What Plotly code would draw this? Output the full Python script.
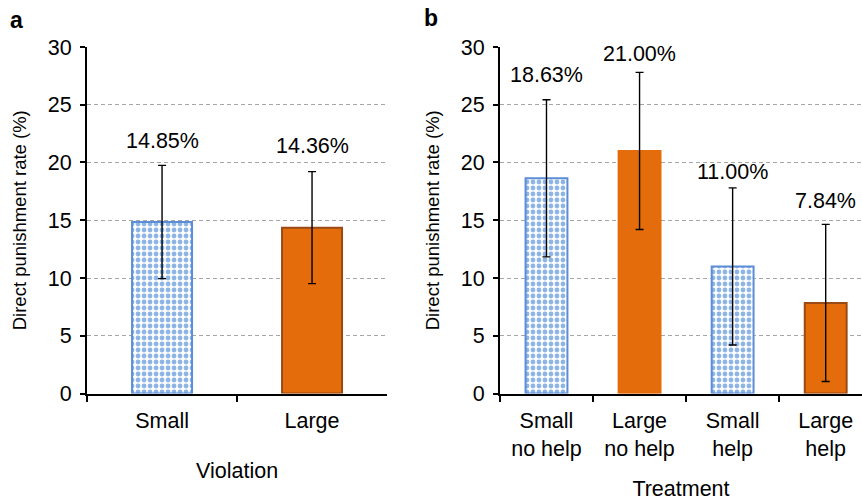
import plotly.graph_objects as go

# ---- data ----
cats_a = ["Small", "Large"]
vals_a = [14.85, 14.36]
err_a = [4.9, 4.85]
labels_a = ["14.85%", "14.36%"]

cats_b = ["Small<br>no help", "Large<br>no help", "Small<br>help", "Large<br>help"]
vals_b = [18.63, 21.00, 11.00, 7.84]
err_b = [6.8, 6.8, 6.8, 6.8]
labels_b = ["18.63%", "21.00%", "11.00%", "7.84%"]

y_ticks = [0, 5, 10, 15, 20, 25, 30]

# ---- styles ----
BLUE_LINE = "#5B8ED6"
BLUE_FILL = "#8DB4E6"
ORANGE = "#E46C0A"
BROWN = "#9A4A14"
FONT = "Liberation Sans"
TF = 21.5

fig = go.Figure()

def add_bars(cats, vals, errs, idx, width, small, line_colors, xa, ya):
    xs = [cats[i] for i in idx]
    ys = [vals[i] for i in idx]
    es = [errs[i] for i in idx]
    lc = [line_colors[i] for i in idx]
    if small:
        marker = dict(color="white", line=dict(color=lc, width=2),
                      pattern=dict(shape=".", fgcolor=BLUE_FILL, fgopacity=1,
                                   size=6, solidity=0.5, fillmode="overlay"))
    else:
        marker = dict(color=ORANGE, line=dict(color=lc, width=2))
    fig.add_trace(go.Bar(
        x=xs, y=ys, width=width, marker=marker,
        error_y=dict(type="data", array=es, color="black", thickness=1.4, width=4),
        xaxis=xa, yaxis=ya, showlegend=False,
    ))

add_bars(cats_a, vals_a, err_a, [0], 0.4, True, [BLUE_LINE, BROWN], "x", "y")
add_bars(cats_a, vals_a, err_a, [1], 0.4, False, [BLUE_LINE, BROWN], "x", "y")
lc_b = [BLUE_LINE, ORANGE, BLUE_LINE, BROWN]
add_bars(cats_b, vals_b, err_b, [0, 2], 0.45, True, lc_b, "x2", "y2")
add_bars(cats_b, vals_b, err_b, [1, 3], 0.45, False, lc_b, "x2", "y2")

label_shift_a = [24, 26]
label_shift_b = [25, 18, 16, 23]
anns = []
for c, v, e, t, s in zip(cats_a, vals_a, err_a, labels_a, label_shift_a):
    anns.append(dict(x=c, y=v + e, xref="x", yref="y", text=t, showarrow=False,
                     yshift=s, font=dict(size=TF, color="black", family=FONT)))
for c, v, e, t, s in zip(cats_b, vals_b, err_b, labels_b, label_shift_b):
    anns.append(dict(x=c, y=v + e, xref="x2", yref="y2", text=t, showarrow=False,
                     yshift=s, font=dict(size=TF, color="black", family=FONT)))
anns.append(dict(x=0.0197, y=0.961, xref="paper", yref="paper", text="<b>a</b>",
                 xanchor="center", yanchor="middle",
                 showarrow=False, font=dict(size=23, color="black", family=FONT)))
anns.append(dict(x=0.5, y=0.964, xref="paper", yref="paper", text="<b>b</b>",
                 xanchor="center", yanchor="middle",
                 showarrow=False, font=dict(size=23, color="black", family=FONT)))

yax = dict(range=[0, 30], tickvals=y_ticks, showgrid=True, gridcolor="#A6A6A6",
           griddash="4px,3px", gridwidth=1, zeroline=False, showline=True,
           linecolor="black", linewidth=2, ticks="outside", ticklen=5,
           tickcolor="black", tickwidth=1.5, ticklabelstandoff=4, automargin=False,
           tickfont=dict(size=TF, color="black", family=FONT),
           title=dict(text="Direct punishment rate (%)", standoff=16,
                      font=dict(size=18.5, color="black", family=FONT)))
xax = dict(showline=True, linecolor="black", linewidth=2, ticks="outside",
           tickson="boundaries", ticklen=6, tickcolor="black", tickwidth=1.5,
           showgrid=False, automargin=False, ticklabelstandoff=7,
           tickfont=dict(size=TF, color="black", family=FONT))

fig.update_layout(
    width=862, height=502,
    margin=dict(l=0, r=0, t=0, b=0),
    paper_bgcolor="white", plot_bgcolor="white",
    font=dict(family=FONT, color="black"),
    barmode="overlay",
    xaxis=dict(xax, domain=[0.101, 0.449], anchor="y",
               categoryorder="array", categoryarray=cats_a,
               title=dict(text="Violation", standoff=31,
                          font=dict(size=TF, color="black", family=FONT))),
    yaxis=dict(yax, domain=[0.2161, 0.9064], anchor="x"),
    xaxis2=dict(xax, domain=[0.58, 1.0], anchor="y2", range=[-0.5, 3.39],
                categoryorder="array", categoryarray=cats_b,
                title=dict(text="Treatment", standoff=21,
                           font=dict(size=TF, color="black", family=FONT))),
    yaxis2=dict(yax, domain=[0.2161, 0.9064], anchor="x2"),
    annotations=anns,
)

fig.write_html("out.html", config={"displayModeBar": False},
               post_script="document.body.style.margin='0';")
